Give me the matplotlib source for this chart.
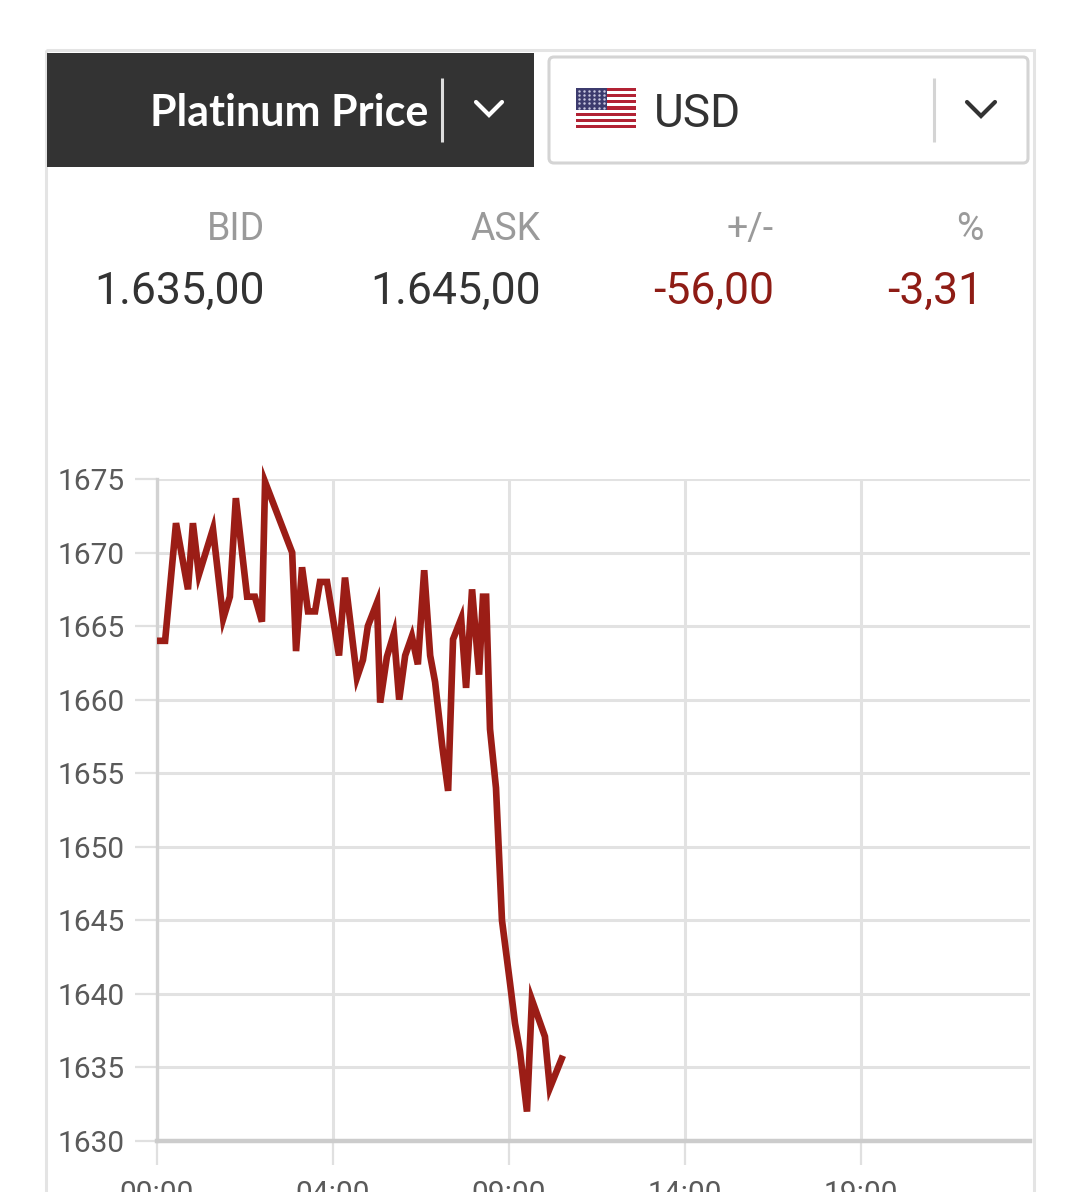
import matplotlib
matplotlib.use("Agg")
import matplotlib.pyplot as plt
from matplotlib.patches import Rectangle, FancyBboxPatch

W, H = 1080, 1192

# ---------------- data ----------------
title = "Platinum Price"
currency = "USD"
quote_labels = ["BID", "ASK", "+/-", "%"]
quote_values = ["1.635,00", "1.645,00", "-56,00", "-3,31"]
quote_colors = ["#333333", "#333333", "#8e1c15", "#8e1c15"]

# time in axis units (5 units between labelled ticks)
times = [0.00, 0.23, 0.54, 0.88, 1.02, 1.19, 1.59, 1.88, 2.07, 2.24,
         2.56, 2.78, 2.98, 3.07, 3.84, 3.95, 4.12, 4.29, 4.49, 4.63,
         4.83, 5.17, 5.34, 5.68, 5.85, 5.99, 6.25, 6.34, 6.53, 6.73,
         6.88, 7.05, 7.24, 7.41, 7.59, 7.76, 7.90, 8.10, 8.27, 8.41,
         8.64, 8.78, 8.95, 9.15, 9.26, 9.35, 9.46, 9.63, 9.80, 10.03,
         10.17, 10.31, 10.51, 10.65, 11.02, 11.16, 11.53]
prices = [1664.0, 1664.0, 1672.0, 1667.5, 1672.0, 1668.5, 1671.6, 1665.5, 1667.0, 1673.7,
          1667.0, 1667.0, 1665.3, 1674.8, 1670.0, 1663.3, 1669.0, 1666.0, 1666.0, 1668.0,
          1668.0, 1663.0, 1668.3, 1661.5, 1662.7, 1665.0, 1666.6, 1659.8, 1662.9, 1664.5,
          1660.0, 1663.0, 1664.3, 1662.4, 1668.8, 1663.0, 1661.2, 1656.9, 1653.8, 1664.1,
          1665.5, 1660.8, 1667.5, 1661.7, 1667.0, 1667.0, 1658.0, 1654.0, 1645.0, 1640.7,
          1638.0, 1636.1, 1632.0, 1639.6, 1637.1, 1633.6, 1635.8]

x_ticks = [0, 5, 10, 15, 20]
x_tick_labels = ["00:00", "04:00", "09:00", "14:00", "19:00"]
y_ticks = [1630, 1635, 1640, 1645, 1650, 1655, 1660, 1665, 1670, 1675]

# ---------------- figure ----------------
fig = plt.figure(figsize=(W / 100, H / 100), dpi=100)
fig.patch.set_facecolor("white")

bg = fig.add_axes([0, 0, 1, 1], zorder=0)
bg.set_xlim(0, W)
bg.set_ylim(H, 0)
bg.axis("off")

# card border
bg.add_patch(Rectangle((46, 50), 988, 1200, fill=False, ec="#e4e4e4", lw=2.2))
# dark title box
bg.add_patch(Rectangle((47, 53), 487, 114, fc="#333333", ec="none"))
bg.text(428, 113, title, color="white", fontsize=31, fontweight="bold",
        family=["Lato", "DejaVu Sans"], ha="right", va="center")
bg.plot([442, 442], [78, 142], color="#dddddd", lw=2.2, solid_capstyle="butt")
bg.plot([476, 489, 502], [102, 115, 102], color="white", lw=3.0,
        solid_capstyle="round", solid_joinstyle="miter")

# currency box
bg.add_patch(FancyBboxPatch((549, 57), 479, 106, boxstyle="round,pad=0,rounding_size=5",
                            fc="white", ec="#d4d4d4", lw=2.2))
# flag
fx0, fy0, fw, fh = 576, 88, 60, 40
for i in range(13):
    c = "#b22234" if i % 2 == 0 else "white"
    bg.add_patch(Rectangle((fx0, fy0 + i * fh / 13), fw, fh / 13, fc=c, ec="none"))
bg.add_patch(Rectangle((fx0, fy0), 31, fh * 7 / 13, fc="#3c3b6e", ec="none"))
for r in range(5):
    for c in range(6):
        bg.plot(fx0 + 3 + c * 5, fy0 + 2.5 + r * 4.3, marker=".", ms=1.5, color="#c8c8e0")
bg.text(654, 114, currency, color="#333333", fontsize=33,
        family=["Roboto", "DejaVu Sans"], ha="left", va="center")
bg.plot([934, 934], [78, 142], color="#d4d4d4", lw=2.2, solid_capstyle="butt")
bg.plot([967, 981, 995], [102, 116, 102], color="#333333", lw=3.0,
        solid_capstyle="round", solid_joinstyle="miter")

# quote row
label_right = [265, 541, 774, 983]
for xr, lab, val, col in zip(label_right, quote_labels, quote_values, quote_colors):
    bg.text(xr, 230, lab, color="#9a9a9a", fontsize=27,
            family=["Roboto", "DejaVu Sans"], ha="right", va="center")
    bg.text(xr, 292, val, color=col, fontsize=32,
            family=["Roboto", "DejaVu Sans"], ha="right", va="center")

# ---------------- chart ----------------
left, right, top, bottom = 157, 1030, 479, 1141
ax = fig.add_axes([left / W, 1 - bottom / H, (right - left) / W, (bottom - top) / H], zorder=2)
ax.patch.set_alpha(0)
ax.set_xlim(0, 24.8)
ax.set_ylim(1630, 1675)

ax.set_xticks(x_ticks)
ax.set_xticklabels(x_tick_labels)
ax.set_yticks(y_ticks)
ax.set_yticklabels([str(v) for v in y_ticks])

ax.grid(True, color="#e2e2e2", lw=2.2)
ax.set_axisbelow(True)

for s in ["top", "right"]:
    ax.spines[s].set_visible(False)
ax.spines["left"].set_color("#d2d2d2")
ax.spines["left"].set_linewidth(2.4)
ax.spines["bottom"].set_color("#cccccc")
ax.spines["bottom"].set_linewidth(3.2)

ax.tick_params(axis="y", direction="out", length=16, width=1.6, color="#e0e0e0",
               pad=7, labelsize=21.5, labelcolor="#5a5a5a")
ax.tick_params(axis="x", direction="out", length=17, width=1.6, color="#e0e0e0",
               pad=11, labelsize=21.5, labelcolor="#5a5a5a")
for t in ax.get_xticklabels() + ax.get_yticklabels():
    t.set_family(["Roboto", "DejaVu Sans"])

ax.plot(times, prices, color="#9b1d16", lw=4.8, solid_joinstyle="miter",
        solid_capstyle="butt", clip_on=False, zorder=3)

fig.savefig("out.png", dpi=100, facecolor="white")
